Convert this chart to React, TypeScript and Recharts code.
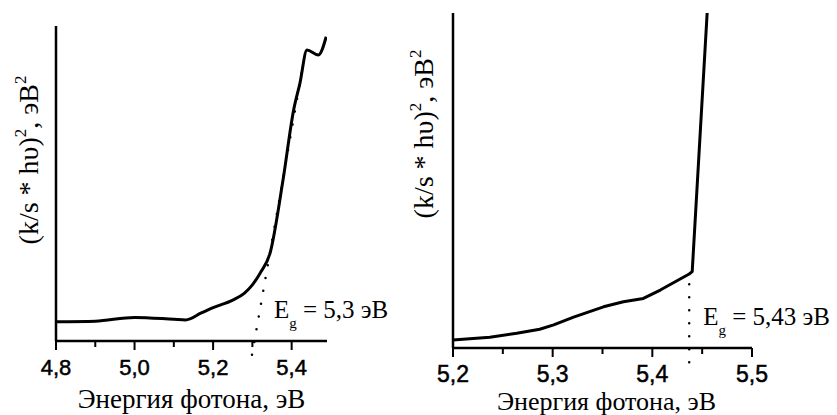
import React from 'react';
import { LineChart, Line, XAxis, YAxis, ReferenceLine, ReferenceDot, Label } from 'recharts';

// ---- Left chart data ----
const leftEnergy = [4.8, 4.9, 5.0, 5.1, 5.13, 5.17, 5.2, 5.25, 5.28, 5.3, 5.32, 5.345, 5.378, 5.405, 5.421, 5.439, 5.468, 5.488];
const leftValue = [6.1, 6.3, 7.5, 6.9, 6.7, 8.9, 10.6, 13, 15.2, 17.8, 21.6, 27.9, 51.1, 73.3, 81.8, 92.4, 90.8, 96.6];
const leftTicks = [4.8, 4.9, 5.0, 5.1, 5.2, 5.3, 5.4];
const leftMajor = [4.8, 5.0, 5.2, 5.4];
const leftTangentX = [5.299, 5.426];
const leftTangentY = [-4.4, 85.5];
const leftEgText = '= 5,3 эВ';
const leftEgPos = [5.355, 7.3];

// ---- Right chart data ----
const rightEnergy = [5.2, 5.237, 5.264, 5.287, 5.301, 5.321, 5.351, 5.371, 5.391, 5.408, 5.437, 5.44, 5.455];
const rightValue = [2.4, 3.2, 4.4, 5.6, 6.9, 9.2, 12.3, 13.8, 14.8, 17.3, 22.1, 22.8, 100];
const rightTicks = [5.2, 5.25, 5.3, 5.35, 5.4, 5.45, 5.5];
const rightMajor = [5.2, 5.3, 5.4, 5.5];
const rightEgX = 5.437;
const rightEgLineY = [19, -6];
const rightEgText = '= 5,43 эВ';
const rightEgPos = [5.451, 6.9];

const xTitle = 'Энергия фотона, эВ';
const yTitleMain = '(k/s * hυ)';
const yTitleUnit = ', эВ';

const SERIF = '"Liberation Serif", "Times New Roman", serif';
const SANS = '"Liberation Sans", Arial, sans-serif';

const leftData = leftEnergy.map((x, i) => ({ x, y: leftValue[i] }));
const rightData = rightEnergy.map((x, i) => ({ x, y: rightValue[i] }));

const fmt = (v: number) => v.toFixed(1).replace('.', ',');

const makeTick = (majors: number[], fontSize: number, dy: number) => (props: any) => {
  const { x, y, payload } = props;
  const major = majors.some((m) => Math.abs(m - payload.value) < 1e-6);
  return (
    <g>
      <line x1={x} x2={x} y1={y} y2={y + (major ? 9 : 6)} stroke="#000" strokeWidth={2} />
      {major && (
        <text x={x} y={y + dy} textAnchor="middle" fontFamily={SANS} fontSize={fontSize} fill="#000" stroke="#000" strokeWidth={0.5}>
          {fmt(payload.value)}
        </text>
      )}
    </g>
  );
};

// Renders both axis titles (x title centred under the plot, y title rotated at the left)
const titlesContent = (dx: number, baseline: number, xSize: number, yBx: number, yCy: number, ySize: number) => (props: any) => {
  const vb = props.viewBox;
  return (
    <g>
      <text x={vb.x + vb.width / 2 + dx} y={baseline} textAnchor="middle" fontFamily={SERIF} fontSize={xSize} fill="#000">
        {xTitle}
      </text>
      <text transform={`translate(${yBx},${yCy}) rotate(-90)`} x={0} y={0} textAnchor="middle" fontFamily={SERIF} fontSize={ySize} fill="#000">
        <tspan>{yTitleMain}</tspan>
        <tspan dy={-12} fontSize={17}>2</tspan>
        <tspan dy={12}>{yTitleUnit}</tspan>
        <tspan dy={-12} fontSize={17}>2</tspan>
      </text>
    </g>
  );
};

const egContent = (text: string) => (props: any) => {
  const vb = props.viewBox;
  const x = vb.x + (vb.width || 0) / 2;
  const y = vb.y + (vb.height || 0) / 2;
  return (
    <text x={x} y={y} fontFamily={SERIF} fontSize={25} fill="#000">
      <tspan>E</tspan>
      <tspan dy={10} fontSize={15}>g</tspan>
      <tspan dy={-10}>{' ' + text}</tspan>
    </text>
  );
};

const axisStyle = { stroke: '#000', strokeWidth: 2.5 };

export default function App() {
  return (
    <div style={{ position: 'absolute', left: 0, top: 0, width: 837, height: 415, background: '#fff', overflow: 'hidden' }}>
      <div style={{ position: 'absolute', left: 0, top: 0, zIndex: 2 }}>
        <LineChart width={400} height={415} data={leftData} margin={{ top: 26, right: 73, bottom: 0, left: 0 }}>
          <XAxis
            dataKey="x"
            type="number"
            domain={[4.8, 5.49]}
            allowDataOverflow
            ticks={leftTicks}
            interval={0}
            height={74}
            tickSize={0}
            tickMargin={0}
            tickLine={false}
            axisLine={axisStyle}
            tick={makeTick(leftMajor, 22, 34)}
          >
            <Label content={titlesContent(0, 408, 27, 38, 160, 28)} />
          </XAxis>
          <YAxis
            type="number"
            domain={[0, 100]}
            allowDataOverflow
            width={56}
            tick={false}
            tickLine={false}
            axisLine={axisStyle}
          />
          <ReferenceLine
            segment={[
              { x: leftTangentX[0], y: leftTangentY[0] },
              { x: leftTangentX[1], y: leftTangentY[1] },
            ]}
            ifOverflow="visible"
            stroke="#000"
            strokeWidth={2.5}
            strokeDasharray="0 13"
            strokeLinecap="round"
          />
          <Line
            type="monotone"
            dataKey="y"
            stroke="#000"
            strokeWidth={3}
            dot={false}
            isAnimationActive={false}
            strokeLinejoin="round"
          />
          <ReferenceDot x={leftEgPos[0]} y={leftEgPos[1]} r={0} fill="none" stroke="none" label={egContent(leftEgText)} />
        </LineChart>
      </div>
      <div style={{ position: 'absolute', left: 340, top: 0, zIndex: 1 }}>
        <LineChart width={497} height={415} data={rightData} margin={{ top: 13, right: 85, bottom: 0, left: 0 }}>
          <XAxis
            dataKey="x"
            type="number"
            domain={[5.2, 5.5]}
            allowDataOverflow
            ticks={rightTicks}
            interval={0}
            height={67}
            tickSize={0}
            tickMargin={0}
            tickLine={false}
            axisLine={axisStyle}
            tick={makeTick(rightMajor, 23, 34)}
          >
            <Label content={titlesContent(4, 410, 26, 93, 134, 28)} />
          </XAxis>
          <YAxis
            type="number"
            domain={[0, 100]}
            allowDataOverflow
            width={113}
            tick={false}
            tickLine={false}
            axisLine={axisStyle}
          />
          <ReferenceLine
            segment={[
              { x: rightEgX, y: rightEgLineY[0] },
              { x: rightEgX, y: rightEgLineY[1] },
            ]}
            ifOverflow="visible"
            stroke="#000"
            strokeWidth={2.5}
            strokeDasharray="0 13"
            strokeLinecap="round"
          />
          <Line
            type="linear"
            dataKey="y"
            stroke="#000"
            strokeWidth={3}
            dot={false}
            isAnimationActive={false}
            strokeLinejoin="round"
          />
          <ReferenceDot x={rightEgPos[0]} y={rightEgPos[1]} r={0} fill="none" stroke="none" label={egContent(rightEgText)} />
        </LineChart>
      </div>
    </div>
  );
}
